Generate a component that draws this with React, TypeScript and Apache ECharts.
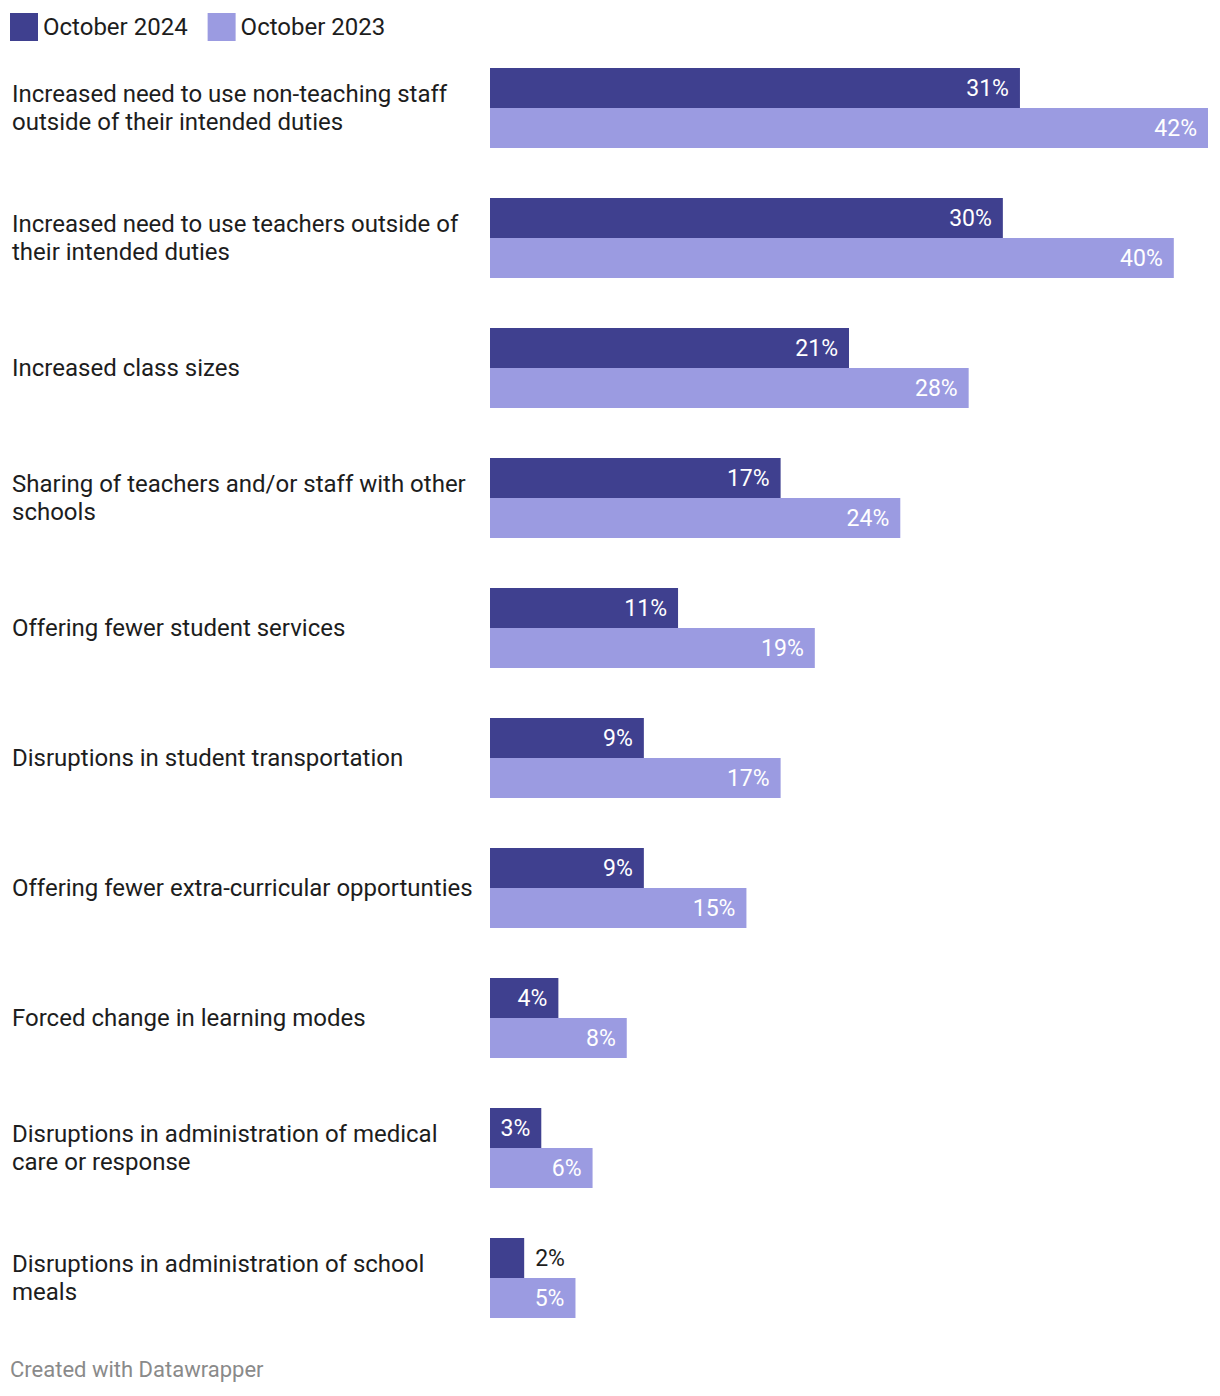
import React, { useEffect, useRef } from "react";
import * as echarts from "echarts";

const categories = [
  "Increased need to use non-teaching staff\noutside of their intended duties",
  "Increased need to use teachers outside of\ntheir intended duties",
  "Increased class sizes",
  "Sharing of teachers and/or staff with other\nschools",
  "Offering fewer student services",
  "Disruptions in student transportation",
  "Offering fewer extra-curricular opportunties",
  "Forced change in learning modes",
  "Disruptions in administration of medical\ncare or response",
  "Disruptions in administration of school\nmeals",
];
const oct2024 = [31, 30, 21, 17, 11, 9, 9, 4, 3, 2];
const oct2023 = [42, 40, 28, 24, 19, 17, 15, 8, 6, 5];
const seriesNames = ["October 2024", "October 2023"];
const colors = ["#3f408f", "#9b9be1"];
const footer = "Created with Datawrapper";

const FONT = "Roboto, 'Noto Sans', sans-serif";

export default function App() {
  const ref = useRef<HTMLDivElement>(null);
  useEffect(() => {
    if (!ref.current) return;
    const chart = echarts.init(ref.current, null, { renderer: "svg" });
    chart.setOption({
      animation: false,
      textStyle: { fontFamily: FONT },
      legend: {
        left: 10,
        top: 13,
        padding: 0,
        itemWidth: 28,
        itemHeight: 28,
        itemGap: 20,
        icon: "rect",
        textStyle: { fontSize: 24, color: "#1d1d1d", fontFamily: FONT },
        data: seriesNames,
      },
      grid: { left: 490, right: 12, top: 43, height: 1300, containLabel: false },
      xAxis: {
        type: "value",
        min: 0,
        max: 42,
        show: false,
      },
      yAxis: {
        type: "category",
        inverse: true,
        data: categories,
        axisLine: { show: false },
        axisTick: { show: false },
        axisLabel: {
          align: "left",
          margin: 478,
          fontSize: 24,
          lineHeight: 28,
          color: "#1d1d1d",
          fontFamily: FONT,
        },
      },
      series: [
        {
          name: seriesNames[0],
          type: "bar",
          data: oct2024.map((v) => ({
            value: v,
            label:
              v < 3
                ? { position: "right", distance: 11, color: "#1d1d1d" }
                : { position: "insideRight", distance: 11, color: "#ffffff" },
          })),
          barWidth: 40,
          barGap: "0%",
          itemStyle: { color: colors[0] },
          label: { show: true, fontSize: 23, fontFamily: FONT, formatter: "{c}%" },
        },
        {
          name: seriesNames[1],
          type: "bar",
          data: oct2023,
          barWidth: 40,
          barGap: "0%",
          itemStyle: { color: colors[1] },
          label: {
            show: true,
            position: "insideRight",
            distance: 11,
            color: "#ffffff",
            fontSize: 23,
            fontFamily: FONT,
            formatter: "{c}%",
          },
        },
      ],
      graphic: [
        {
          type: "text",
          left: 10,
          top: 1358,
          style: { text: footer, fontSize: 22, fill: "#8a8a8a", fontFamily: FONT },
        },
      ],
    });
    return () => chart.dispose();
  }, []);
  return (
    <div
      ref={ref}
      style={{ position: "absolute", left: 0, top: 0, width: 1220, height: 1396, background: "#fff" }}
    />
  );
}
